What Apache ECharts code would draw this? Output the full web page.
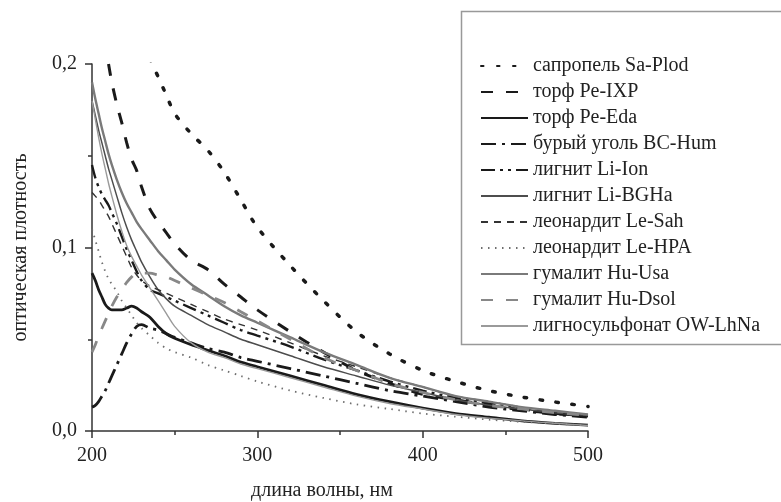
<!DOCTYPE html>
<html>
<head>
<meta charset="utf-8">
<script src="https://cdn.jsdelivr.net/npm/echarts@6/dist/echarts.min.js"></script>
<style>
  html, body { margin: 0; padding: 0; background: #fff; }
  #chart { width: 781px; height: 502px; }
</style>
</head>
<body>
<div id="chart"></div>
<script>
// wavelength grid, nm
var wavelength = [200, 202, 204, 206, 208, 210, 212, 215, 218, 221, 224, 227, 230, 235, 240, 245,
  250, 260, 270, 280, 290, 300, 320, 340, 360, 380, 400, 420, 440, 460, 480, 500];

// optical density (null = not on the plot)
var saPlod = [null, null, null, null, null, null, null, null, null, null, null, null, null, 0.203, 0.193, 0.183,
  0.173, 0.162, 0.153, 0.141, 0.126, 0.111, 0.090, 0.071, 0.054, 0.042, 0.033, 0.027, 0.022, 0.0185, 0.0158, 0.0134];
var peIXP = [null, null, null, null, null, 0.2, 0.19, 0.178, 0.168, 0.157, 0.148, 0.142, 0.133, 0.121, 0.114, 0.108,
  0.102, 0.093, 0.088, 0.080, 0.073, 0.066, 0.054, 0.043, 0.033, 0.026, 0.020, 0.017, 0.014, 0.0115, 0.0095, 0.0085];
var peEda = [0.086, 0.082, 0.077, 0.073, 0.069, 0.067, 0.066, 0.066, 0.066, 0.067, 0.068, 0.067, 0.065, 0.062, 0.057, 0.053,
  0.0505, 0.047, 0.044, 0.041, 0.0375, 0.035, 0.030, 0.025, 0.020, 0.016, 0.0125, 0.0095, 0.0075, 0.0055, 0.0042, 0.0032];
var bcHum = [0.013, 0.014, 0.016, 0.019, 0.022, 0.026, 0.030, 0.036, 0.042, 0.048, 0.053, 0.057, 0.058, 0.056, 0.055, 0.053,
  0.051, 0.048, 0.045, 0.043, 0.040, 0.038, 0.034, 0.030, 0.026, 0.022, 0.019, 0.016, 0.013, 0.011, 0.009, 0.0075];
var liIon = [0.145, 0.138, 0.133, 0.129, 0.126, 0.123, 0.119, 0.113, 0.106, 0.099, 0.093, 0.087, 0.082, 0.077, 0.075, 0.073,
  0.071, 0.067, 0.063, 0.059, 0.055, 0.052, 0.046, 0.039, 0.033, 0.027, 0.022, 0.018, 0.015, 0.012, 0.0095, 0.008];
var liBGHa = [0.18, 0.172, 0.164, 0.157, 0.150, 0.143, 0.137, 0.128, 0.119, 0.111, 0.104, 0.098, 0.092, 0.084, 0.077, 0.072,
  0.068, 0.063, 0.058, 0.054, 0.050, 0.047, 0.041, 0.035, 0.030, 0.025, 0.021, 0.017, 0.014, 0.012, 0.010, 0.0085];
var leSah = [0.13, 0.128, 0.126, 0.123, 0.120, 0.117, 0.113, 0.107, 0.101, 0.095, 0.089, 0.085, 0.082, 0.079, 0.077, 0.075,
  0.073, 0.069, 0.065, 0.061, 0.058, 0.055, 0.048, 0.041, 0.035, 0.029, 0.024, 0.019, 0.016, 0.013, 0.010, 0.0085];
var leHPA = [0.11, 0.104, 0.098, 0.092, 0.087, 0.083, 0.080, 0.076, 0.071, 0.067, 0.063, 0.059, 0.056, 0.052, 0.048, 0.045,
  0.043, 0.040, 0.036, 0.033, 0.030, 0.027, 0.022, 0.018, 0.0145, 0.012, 0.0095, 0.0078, 0.0062, 0.005, 0.004, 0.003];
var huUsa = [0.19, 0.181, 0.173, 0.165, 0.158, 0.151, 0.145, 0.137, 0.130, 0.124, 0.119, 0.114, 0.110, 0.104, 0.098, 0.093,
  0.088, 0.080, 0.074, 0.068, 0.063, 0.059, 0.051, 0.043, 0.036, 0.029, 0.024, 0.019, 0.016, 0.013, 0.011, 0.009];
var huDsol = [0.043, 0.047, 0.052, 0.056, 0.060, 0.064, 0.068, 0.073, 0.077, 0.081, 0.084, 0.086, 0.086, 0.086, 0.085, 0.084,
  0.082, 0.078, 0.074, 0.070, 0.065, 0.060, 0.050, 0.040, 0.033, 0.026, 0.021, 0.017, 0.014, 0.012, 0.010, 0.0085];
var owLhNa = [0.18, 0.17, 0.160, 0.151, 0.143, 0.135, 0.128, 0.118, 0.109, 0.101, 0.095, 0.090, 0.085, 0.078, 0.071, 0.064,
  0.057, 0.048, 0.043, 0.040, 0.0365, 0.034, 0.029, 0.024, 0.019, 0.015, 0.012, 0.009, 0.007, 0.0055, 0.0042, 0.003];

var names = ["сапропель Sa-Plod", "торф Pe-IXP", "торф Pe-Eda", "бурый уголь BC-Hum", "лигнит Li-Ion",
  "лигнит Li-BGHa", "леонардит Le-Sah", "леонардит Le-HPA", "гумалит Hu-Usa", "гумалит Hu-Dsol",
  "лигносульфонат OW-LhNa"];
var values = [saPlod, peIXP, peEda, bcHum, liIon, liBGHa, leSah, leHPA, huUsa, huDsol, owLhNa];

var styles = [
  { color: "#1a1a1a", width: 3.5, type: [2.5, 13.5], cap: "round" },
  { color: "#1a1a1a", width: 3, type: [12, 13] },
  { color: "#1a1a1a", width: 2.8, type: "solid" },
  { color: "#1a1a1a", width: 2.8, type: [15, 6, 3, 6] },
  { color: "#1a1a1a", width: 2.4, type: [14, 5, 3, 5, 3, 5] },
  { color: "#4d4d4d", width: 1.5, type: "solid" },
  { color: "#333333", width: 1.4, type: [7, 6] },
  { color: "#6e6e6e", width: 1.8, type: [1.5, 5.5] },
  { color: "#7a7a7a", width: 2.4, type: "solid" },
  { color: "#888888", width: 2.8, type: [12, 13] },
  { color: "#9a9a9a", width: 1.4, type: "solid" }
];

var font = "'Liberation Serif', 'Times New Roman', serif";
var dom = document.getElementById("chart");
var myChart = echarts.init(dom);

var series = names.map(function (name, i) {
  return {
    name: name,
    type: "line",
    smooth: 0.3,
    symbol: "none",
    clip: true,
    connectNulls: false,
    lineStyle: styles[i],
    itemStyle: { color: styles[i].color },
    data: wavelength.map(function (w, k) {
      return [w, values[i][k]];
    })
  };
});

var option = {
  animation: false,
  backgroundColor: "#fff",
  textStyle: { fontFamily: font },
  grid: { left: 92, right: 193, top: 64, bottom: 71, outerBoundsMode: "none" },
  legend: {
    orient: "vertical",
    left: 480,
    top: 56,
    itemWidth: 47,
    itemHeight: 14,
    itemGap: 6,
    padding: 0,
    // hide the circle that line series put in the middle of the legend line
    itemStyle: { color: "transparent", borderWidth: 0, opacity: 0 },
    textStyle: { fontFamily: font, fontSize: 20, lineHeight: 20, color: "#222" },
    data: names
  },
  graphic: [
    {
      type: "rect",
      left: 459,
      top: 9,
      shape: { width: 340, height: 333 },
      style: { fill: "none", stroke: "#999", lineWidth: 1.5 },
      z: -1
    }
  ],
  xAxis: {
    type: "value",
    min: 200,
    max: 500,
    interval: 100,
    name: "длина волны, нм",
    nameLocation: "middle",
    nameGap: 50,
    nameTextStyle: { fontFamily: font, fontSize: 20, color: "#222", padding: [0, 36, 0, 0] },
    axisLine: { lineStyle: { color: "#333", width: 1.5 } },
    axisTick: { length: 7, lineStyle: { color: "#333", width: 1.5 } },
    minorTick: { show: true, splitNumber: 2, length: 4, lineStyle: { color: "#333", width: 1.5 } },
    axisLabel: { fontFamily: font, fontSize: 20, color: "#222", margin: 15 },
    splitLine: { show: false }
  },
  yAxis: {
    type: "value",
    min: 0,
    max: 0.2,
    interval: 0.1,
    name: "оптическая плотность",
    nameLocation: "middle",
    nameGap: 61,
    nameTextStyle: { fontFamily: font, fontSize: 20, color: "#222" },
    axisLine: { show: true, lineStyle: { color: "#333", width: 1.5 } },
    axisTick: { show: true, length: 7, lineStyle: { color: "#333", width: 1.5 } },
    minorTick: { show: true, splitNumber: 2, length: 4, lineStyle: { color: "#333", width: 1.5 } },
    axisLabel: {
      fontFamily: font,
      fontSize: 20,
      color: "#222",
      margin: 15,
      formatter: function (v) {
        return v.toFixed(1).replace(".", ",");
      }
    },
    splitLine: { show: false }
  },
  series: series
};

if (option && typeof option === "object") {
  myChart.setOption(option);
}
</script>
</body>
</html>
